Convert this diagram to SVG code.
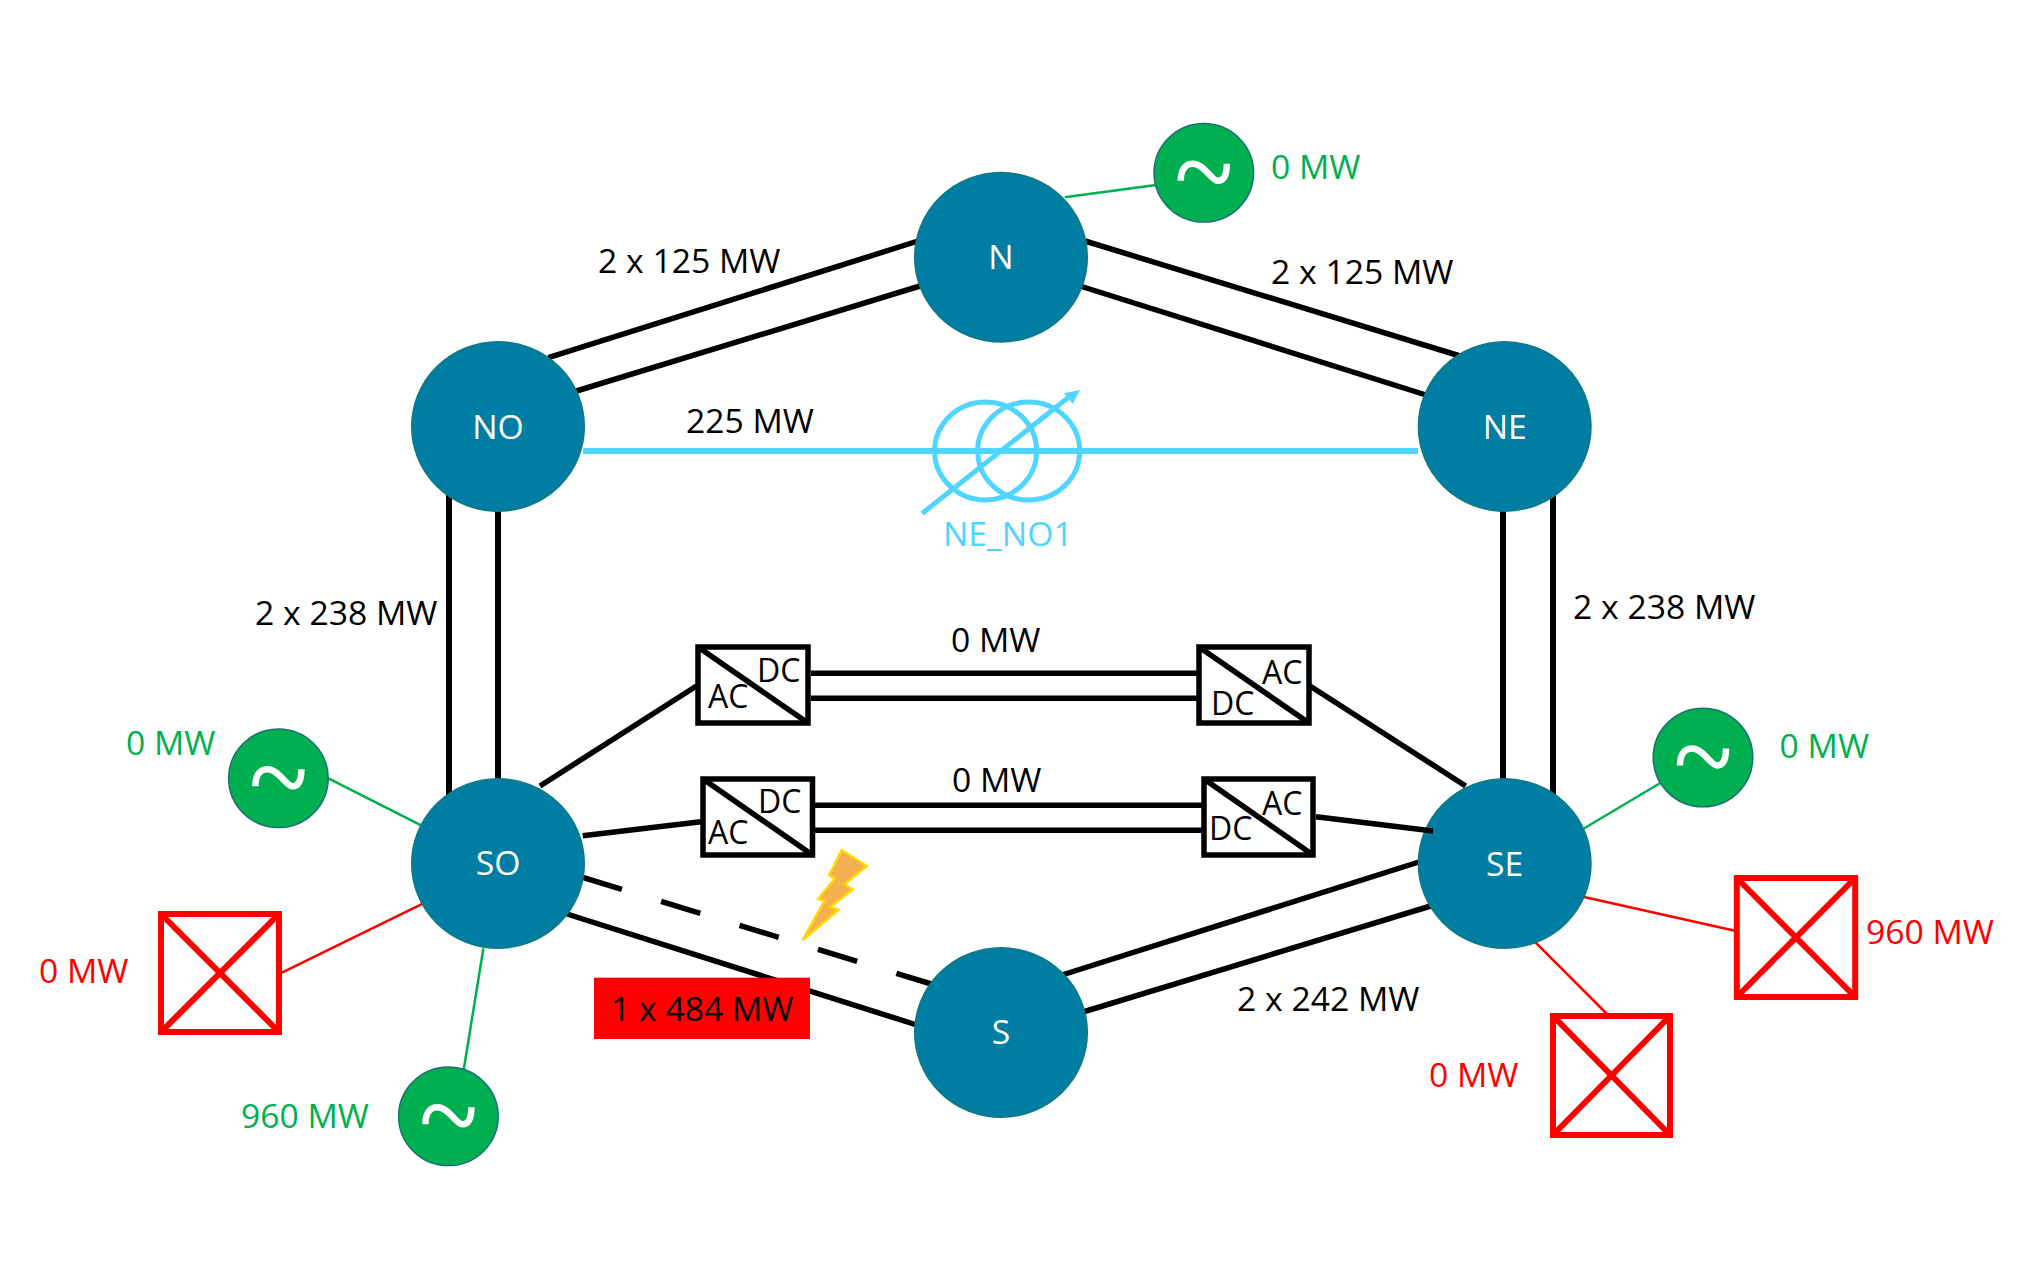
<svg xmlns="http://www.w3.org/2000/svg" width="2027" height="1265" viewBox="0 0 2027 1265">
<defs>
<style>
text{font-family:"Open Sans","Noto Sans","Liberation Sans",sans-serif;font-size:33.7px}
.k{fill:#000}.g{fill:#00B050}.r{fill:#FF0000}.w{fill:#fff}.b{fill:#4FD5FF}
.m{text-anchor:middle}
.bus{fill:#007DA3;stroke:#0F7A80;stroke-width:1.5}
.gen{fill:#00B050;stroke:#1B6E78;stroke-width:1.5}
.tl{fill:none;stroke:#fff;stroke-width:6.5}
.rb{fill:#fff;stroke:#FF0000;stroke-width:6}
.rx{stroke:#FF0000;stroke-width:6}
.cv{fill:#fff;stroke:#000;stroke-width:5.5}
.l{stroke:#000;stroke-width:5.5;fill:none}
.lv{stroke:#000;stroke-width:6;fill:none}
.lg{stroke:#00B050;stroke-width:2.5}
.lr{stroke:#FF0000;stroke-width:2.5}
.lb{stroke:#4FD5FF;stroke-width:5;fill:none}
.ct{font-size:32px}
</style>
<path id="t" d="M-23,8 C-23,-6 -16,-9 -11,-9 C0,-9 8,8 14,8 C19,8 23,4 23,-9"/>
</defs>
<rect width="2027" height="1265" fill="#fff"/>
<g id="connectors">
<line class="l" x1="548.4" y1="357.7" x2="918" y2="241"/>
<line class="l" x1="576.4" y1="391" x2="920" y2="286"/>
<line class="l" x1="1085" y1="241" x2="1460" y2="356"/>
<line class="l" x1="1080" y1="286" x2="1426" y2="395"/>
<line class="lv" x1="449" y1="490" x2="449" y2="800"/>
<line class="lv" x1="498" y1="505" x2="498" y2="785"/>
<line class="lv" x1="1503" y1="505" x2="1503" y2="785"/>
<line class="lv" x1="1553" y1="490" x2="1553" y2="800"/>
<line class="l" x1="567" y1="914" x2="920" y2="1026"/>
<line class="l" x1="582.7" y1="877.3" x2="934.7" y2="985" stroke-dasharray="41 41"/>
<line class="l" x1="1062" y1="975" x2="1422" y2="861"/>
<line class="l" x1="1083" y1="1012" x2="1434" y2="905"/>
<line class="l" x1="540" y1="786" x2="698" y2="685"/>
<line class="l" x1="582.7" y1="835.7" x2="703" y2="821.500"/>
<line class="l" x1="1310" y1="686" x2="1465.700" y2="786"/>
<line class="l" x1="811" y1="673.300" x2="1199" y2="673.300"/>
<line class="l" x1="811" y1="698.300" x2="1199" y2="698.300"/>
<line class="l" x1="815" y1="805.300" x2="1204" y2="805.300"/>
<line class="l" x1="815" y1="830.300" x2="1204" y2="830.300"/>
<line class="lb" x1="583" y1="451" x2="1418" y2="451" style="stroke-width:6"/>
<line class="lg" x1="1064.700" y1="197.300" x2="1156" y2="185"/>
<line class="lg" x1="328.400" y1="778.300" x2="423.600" y2="826.700"/>
<line class="lg" x1="483.400" y1="948.300" x2="463.800" y2="1069.300"/>
<line class="lg" x1="1583" y1="829" x2="1662" y2="782"/>
<line class="lr" x1="281.900" y1="972.700" x2="424.800" y2="902.700"/>
<line class="lr" x1="1583" y1="896.700" x2="1735" y2="930.700"/>
<line class="lr" x1="1535.700" y1="942.700" x2="1609" y2="1016"/>
</g>
<g id="node-N"><ellipse class="bus" cx="1001" cy="257.300" rx="86.300" ry="84.700"/><text class="w m" x="1001" y="269">N</text></g>
<g id="node-NO"><ellipse class="bus" cx="498" cy="426.500" rx="86.300" ry="84.700"/><text class="w m" x="498" y="438.500">NO</text></g>
<g id="node-NE"><ellipse class="bus" cx="1504.700" cy="426.500" rx="86.300" ry="84.700"/><text class="w m" x="1504.700" y="438.500">NE</text></g>
<g id="node-SO"><ellipse class="bus" cx="498" cy="863.500" rx="86.300" ry="84.700"/><text class="w m" x="498" y="875">SO</text></g>
<g id="node-SE"><ellipse class="bus" cx="1504.700" cy="863.500" rx="86.300" ry="84.700"/><text class="w m" x="1504.700" y="875.500">SE</text></g>
<g id="node-S"><ellipse class="bus" cx="1001" cy="1032.500" rx="86.300" ry="84.700"/><text class="w m" x="1001" y="1044">S</text></g>
<g id="connector-overlay"><line class="l" x1="1316" y1="816.700" x2="1433" y2="831"/></g>
<g id="gen-N"><ellipse class="gen" cx="1203.800" cy="172.800" rx="49.800" ry="49.300"/><use href="#t" class="tl" x="1203.800" y="172.800"/></g>
<g id="gen-SO-top"><ellipse class="gen" cx="278.400" cy="778.300" rx="49.800" ry="49.300"/><use href="#t" class="tl" x="278.400" y="778.300"/></g>
<g id="gen-SO-bottom"><ellipse class="gen" cx="448.400" cy="1116.300" rx="49.800" ry="49.300"/><use href="#t" class="tl" x="448.400" y="1116.300"/></g>
<g id="gen-SE"><ellipse class="gen" cx="1703" cy="757.500" rx="49.800" ry="49.300"/><use href="#t" class="tl" x="1703" y="757.500"/></g>
<g id="load-SO"><rect class="rb" x="161" y="914" width="118" height="118"/><line class="rx" x1="161" y1="914" x2="279" y2="1032"/><line class="rx" x1="279" y1="914" x2="161" y2="1032"/></g>
<g id="load-SE-right"><rect class="rb" x="1736.800" y="878" width="118.400" height="119"/><line class="rx" x1="1736.800" y1="878" x2="1855.200" y2="997"/><line class="rx" x1="1855.200" y1="878" x2="1736.800" y2="997"/></g>
<g id="load-SE-bottom"><rect class="rb" x="1553" y="1016" width="117" height="119"/><line class="rx" x1="1553" y1="1016" x2="1670" y2="1135"/><line class="rx" x1="1670" y1="1016" x2="1553" y2="1135"/></g>
<g id="conv-1"><rect class="cv" x="698" y="647" width="110" height="76"/><line class="l" x1="698" y1="647" x2="808" y2="723"/><text class="ct k" x="708" y="708">AC</text><text class="ct k" x="757" y="682">DC</text></g>
<g id="conv-2"><rect class="cv" x="1199" y="647" width="110" height="76"/><line class="l" x1="1199" y1="647" x2="1309" y2="723"/><text class="ct k" x="1262" y="684">AC</text><text class="ct k" x="1211" y="715">DC</text></g>
<g id="conv-3"><rect class="cv" x="703" y="779" width="109.500" height="76"/><line class="l" x1="703" y1="779" x2="812.500" y2="855"/><text class="ct k" x="708" y="844">AC</text><text class="ct k" x="758" y="813">DC</text></g>
<g id="conv-4"><rect class="cv" x="1204" y="779" width="109" height="76"/><line class="l" x1="1204" y1="779" x2="1313" y2="855"/><text class="ct k" x="1262" y="815">AC</text><text class="ct k" x="1209" y="840">DC</text></g>
<g id="transformer">
<ellipse class="lb" cx="985.600" cy="451" rx="51" ry="49"/>
<ellipse class="lb" cx="1028.700" cy="451" rx="51" ry="49"/>
<line class="lb" x1="922" y1="513.500" x2="1069" y2="397"/>
<polygon points="1080,390 1064,393.300 1072.700,404" fill="#4FD5FF"/>
<text class="b" x="943" y="545.700">NE_NO1</text>
</g>
<g id="fault">
<rect x="594" y="977.700" width="216" height="61.300" fill="#FF0000"/>
<text class="k" x="611" y="1020.700">1 x 484 MW</text>
<polygon points="841.700,850 866.700,866 844.300,884.300 852.700,889.300 830,907.300 838.300,910 802.700,940 824.300,901 818.300,899 835,878.300 829.300,875" fill="#F4B04F" stroke="#FFD800" stroke-width="2.500"/>
</g>
<g id="labels">
<text class="k" x="598" y="273.300">2 x 125 MW</text>
<text class="k" x="1271" y="284.300">2 x 125 MW</text>
<text class="k" x="686" y="432.700">225 MW</text>
<text class="k" x="255" y="625">2 x 238 MW</text>
<text class="k" x="1573" y="619.300">2 x 238 MW</text>
<text class="k" x="951" y="651.700">0 MW</text>
<text class="k" x="952" y="791.700">0 MW</text>
<text class="k" x="1237" y="1010.500">2 x 242 MW</text>
<text class="g" x="1271" y="179.300">0 MW</text>
<text class="g" x="126" y="755">0 MW</text>
<text class="g" x="241" y="1128.300">960 MW</text>
<text class="g" x="1779.600" y="758.300">0 MW</text>
<text class="r" x="39" y="983.300">0 MW</text>
<text class="r" x="1866" y="944.300">960 MW</text>
<text class="r" x="1429" y="1087.300">0 MW</text>
</g>
</svg>
